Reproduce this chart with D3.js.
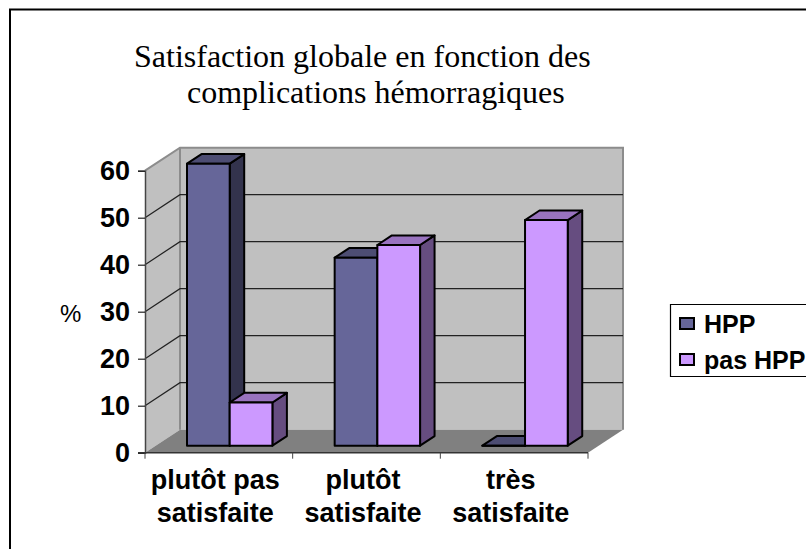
<html>
<meta charset="utf-8">
<style>
  body { margin: 0; background: #fff; }
  svg { display: block; }
  text { fill: #000; }
  .bold { font-family: "Liberation Sans", Arial, sans-serif; font-weight: bold; font-size: 27px; }
  .legendText { font-family: "Liberation Sans", Arial, sans-serif; font-weight: bold; font-size: 25px; }
  .title { font-family: "Liberation Serif", "Times New Roman", serif; font-size: 32px; }
</style>
<body>
<script src="https://d3js.org/d3.v7.min.js"></script>
<script>
// data
var categories = [["plutôt pas", "satisfaite"], ["plutôt", "satisfaite"], ["très", "satisfaite"]];
var seriesNames = ["HPP", "pas HPP"];
var hpp = [60, 40, 0];
var pasHpp = [9.2, 42.7, 48];
var yTicks = [0, 10, 20, 30, 40, 50, 60];

var frontColors = ["#666699", "#CC99FF"];
var sideColors = ["#33334D", "#664D80"];
var topColors = ["#4D4D73", "#9973BF"];

var width = 806, height = 549;

// floor/wall depth of the fake 3d box
var depth = {x: 35, y: -23};
// bars sit a bit inside the box
var barOffset = {x: 11, y: -7};
var barDepth = {x: 14.5, y: -9.6};

var svg = d3.select("body").append("svg")
  .attr("width", width)
  .attr("height", height);

// page frame
svg.append("path")
  .attr("d", "M10,549V9.5H806")
  .attr("fill", "none")
  .attr("stroke", "#000")
  .attr("stroke-width", 2);

var title = svg.append("text").attr("class", "title");
title.append("tspan").attr("x", 134).attr("y", 67).text("Satisfaction globale en fonction des");
title.append("tspan").attr("x", 187).attr("y", 103).text("complications hémorragiques");

var xScale = d3.scaleBand().domain(d3.range(categories.length)).range([145, 588]).paddingInner(0).paddingOuter(0);
var xInner = d3.scaleBand().domain(d3.range(seriesNames.length)).range([31, 116.4]);
var yScale = d3.scaleLinear().domain([0, 60]).range([452.7, 170.7]);

function poly(points) {
  return "M" + points.map(function(p) { return p[0] + "," + p[1]; }).join("L") + "Z";
}

var x0 = xScale.range()[0], x1 = xScale.range()[1];
var y0 = yScale(0), y60 = yScale(60);

// side wall, back wall, floor
svg.append("path")
  .attr("d", poly([[x0, y0], [x0 + depth.x, y0 + depth.y], [x0 + depth.x, y60 + depth.y], [x0, y60]]))
  .attr("fill", "#C0C0C0");
svg.append("path")
  .attr("d", poly([[x0 + depth.x, y0 + depth.y], [x1 + depth.x, y0 + depth.y], [x1 + depth.x, y60 + depth.y], [x0 + depth.x, y60 + depth.y]]))
  .attr("fill", "#C0C0C0");
svg.append("path")
  .attr("d", poly([[x0, y0], [x1, y0], [x1 + depth.x, y0 + depth.y], [x0 + depth.x, y0 + depth.y]]))
  .attr("fill", "#808080");

// wall edges
svg.append("path")
  .attr("d", "M" + x0 + "," + y60 + "L" + (x0 + depth.x) + "," + (y60 + depth.y) + "H" + (x1 + depth.x) + "V" + (y0 + depth.y))
  .attr("fill", "none").attr("stroke", "#8C8C8C").attr("stroke-width", 2);
svg.append("path")
  .attr("d", "M" + (x0 + depth.x) + "," + (y60 + depth.y) + "V" + (y0 + depth.y))
  .attr("fill", "none").attr("stroke", "#8C8C8C").attr("stroke-width", 2);

// gridlines
svg.append("g").selectAll("path")
  .data(yTicks.slice(1, -1))
  .enter().append("path")
  .attr("d", function(d) {
    return "M" + x0 + "," + yScale(d) + "L" + (x0 + depth.x) + "," + (yScale(d) + depth.y) + "H" + (x1 + depth.x);
  })
  .attr("fill", "none")
  .attr("stroke", "#222")
  .attr("stroke-width", 1.2);

// bars
var bars = [];
categories.forEach(function(c, i) {
  bars.push({cat: i, s: 0, v: hpp[i]});
  bars.push({cat: i, s: 1, v: pasHpp[i]});
});

var barG = svg.append("g").selectAll("g")
  .data(bars)
  .enter().append("g")
  .attr("stroke", "#000")
  .attr("stroke-width", 2)
  .attr("stroke-linejoin", "round");

function barLeft(d) { return xScale(d.cat) + xInner(d.s) + barOffset.x; }
function barRight(d) { return barLeft(d) + xInner.bandwidth(); }
function barTop(d) { return yScale(d.v) + barOffset.y; }
function barBottom() { return yScale(0) + barOffset.y; }

barG.append("path")
  .attr("fill", function(d) { return sideColors[d.s]; })
  .attr("d", function(d) {
    return poly([[barRight(d), barBottom()], [barRight(d) + barDepth.x, barBottom() + barDepth.y],
      [barRight(d) + barDepth.x, barTop(d) + barDepth.y], [barRight(d), barTop(d)]]);
  });
barG.append("path")
  .attr("fill", function(d) { return topColors[d.s]; })
  .attr("d", function(d) {
    return poly([[barLeft(d), barTop(d)], [barRight(d), barTop(d)],
      [barRight(d) + barDepth.x, barTop(d) + barDepth.y], [barLeft(d) + barDepth.x, barTop(d) + barDepth.y]]);
  });
barG.append("path")
  .attr("fill", function(d) { return frontColors[d.s]; })
  .attr("d", function(d) {
    return poly([[barLeft(d), barBottom()], [barRight(d), barBottom()], [barRight(d), barTop(d)], [barLeft(d), barTop(d)]]);
  });

// y axis
var yAxis = d3.axisLeft(yScale).tickValues(yTicks).tickSize(7).tickPadding(8).tickFormat(d3.format("d"));
var yG = svg.append("g").attr("transform", "translate(" + x0 + ",0)").call(yAxis);
yG.select(".domain").attr("stroke", "#444").attr("stroke-width", 1.5);
yG.selectAll("line").attr("stroke", "#222").attr("stroke-width", 1.2);
yG.selectAll("text").attr("class", "bold");
yG.attr("font-family", null).attr("font-size", null);

// x axis
var xLine = svg.append("g");
xLine.append("path")
  .attr("d", "M" + (x0 - 7) + "," + y0 + "H" + x1)
  .attr("stroke", "#333").attr("stroke-width", 1.6).attr("fill", "none");
xLine.selectAll("line")
  .data(d3.range(categories.length + 1))
  .enter().append("line")
  .attr("x1", function(d) { return x0 + d * xScale.step(); })
  .attr("x2", function(d) { return x0 + d * xScale.step(); })
  .attr("y1", y0).attr("y2", y0 + 6)
  .attr("stroke", "#444").attr("stroke-width", 1);

// labels sit a few px left of the band centre in the original
var catLabels = svg.append("g").selectAll("text")
  .data(categories)
  .enter().append("text")
  .attr("class", "bold")
  .attr("text-anchor", "middle");
catLabels.append("tspan")
  .attr("x", function(d, i) { return xScale(i) + xScale.bandwidth() / 2 - 3.5; })
  .attr("y", 489)
  .text(function(d) { return d[0]; });
catLabels.append("tspan")
  .attr("x", function(d, i) { return xScale(i) + xScale.bandwidth() / 2 - 3.5; })
  .attr("y", 522)
  .text(function(d) { return d[1]; });

// y title
svg.append("text")
  .attr("x", 60).attr("y", 322)
  .style("font-family", '"Liberation Sans", Arial, sans-serif')
  .style("font-size", "24px")
  .text("%");

// legend
svg.append("path")
  .attr("d", "M806,304.5H670.5V376.5H806")
  .attr("fill", "none").attr("stroke", "#000").attr("stroke-width", 1.2);
var legend = svg.append("g").selectAll("g")
  .data(seriesNames)
  .enter().append("g")
  .attr("transform", function(d, i) { return "translate(680," + (318 + i * 36) + ")"; });
legend.append("rect")
  .attr("width", 14).attr("height", 11)
  .attr("fill", function(d, i) { return frontColors[i]; })
  .attr("stroke", "#000").attr("stroke-width", 2);
legend.append("text")
  .attr("class", "legendText")
  .attr("x", 24).attr("y", 15)
  .text(function(d) { return d; });
</script>
</body>
</html>
